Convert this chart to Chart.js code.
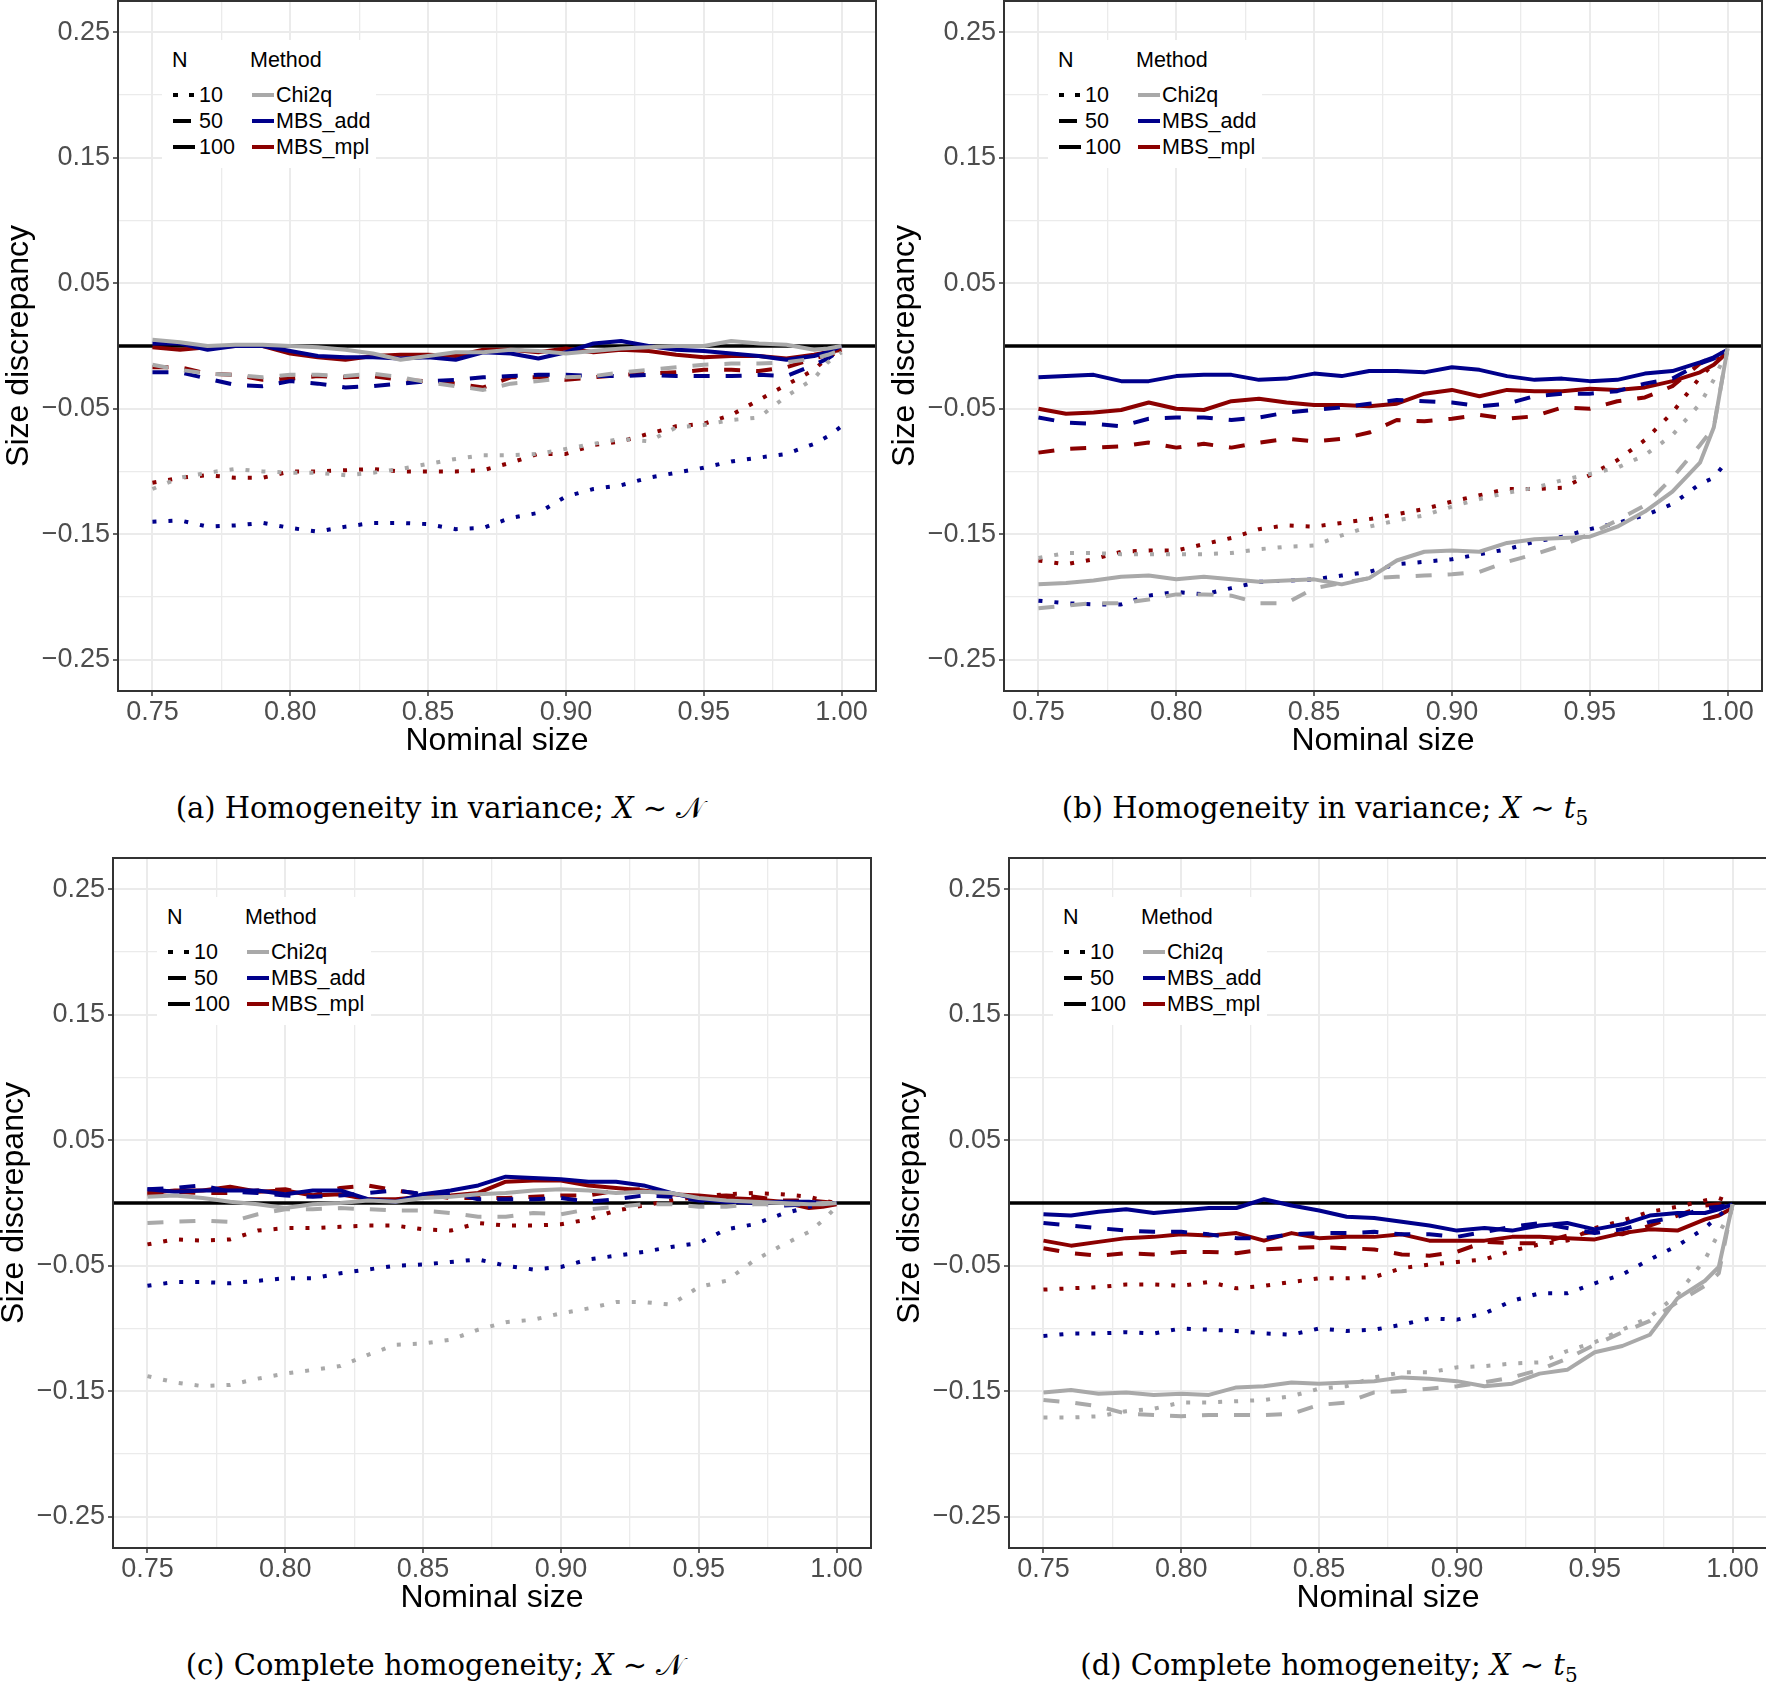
<!DOCTYPE html>
<html>
<head>
<meta charset="utf-8">
<script src="https://cdn.jsdelivr.net/npm/chart.js@4.4.1/dist/chart.umd.min.js"></script>
<style>
html, body { margin: 0; padding: 0; background: #fff; }
body { width: 1766px; height: 1685px; position: relative; overflow: hidden; font-family: "Liberation Sans", Arial, sans-serif; }
.panel { position: absolute; width: 882px; height: 760px; }
.legend { position: absolute; width: 214px; height: 128px; background: #fff; font-size: 21.5px; color: #000; }
.legend div { position: absolute; white-space: nowrap; line-height: 26px; }
.legend svg { position: absolute; left: 0; top: 0; }
.caption { position: absolute; width: 700px; text-align: center; font-family: "DejaVu Serif", serif; font-size: 29px; line-height: 29px; color: #000; white-space: nowrap; }
.caption sub { font-size: 20px; line-height: 0; }
</style>
</head>
<body>
<div class="panel" id="pa" style="left:0px;top:0px"><canvas id="chartA"></canvas></div>
<div class="panel" id="pb" style="left:886px;top:0px"><canvas id="chartB"></canvas></div>
<div class="panel" id="pc" style="left:-5px;top:857px"><canvas id="chartC"></canvas></div>
<div class="panel" id="pd" style="left:891px;top:857px"><canvas id="chartD"></canvas></div>

<div class="caption" style="left:90px;top:794px">(a) Homogeneity in variance; <i>X</i> ∼ 𝒩</div>
<div class="caption" style="left:975px;top:794px">(b) Homogeneity in variance; <i>X</i> ∼ <i>t</i><sub>5</sub></div>
<div class="caption" style="left:85px;top:1651px">(c) Complete homogeneity; <i>X</i> ∼ 𝒩</div>
<div class="caption" style="left:979px;top:1651px">(d) Complete homogeneity; <i>X</i> ∼ <i>t</i><sub>5</sub></div>

<script>
// nominal sizes (x) and axis breaks
const nominal = [0.75, 0.76, 0.77, 0.78, 0.79, 0.80, 0.81, 0.82, 0.83, 0.84, 0.85, 0.86, 0.87, 0.88, 0.89, 0.90, 0.91, 0.92, 0.93, 0.94, 0.95, 0.96, 0.97, 0.98, 0.99, 0.995, 1.00];
const xTicks = [0.75, 0.775, 0.80, 0.825, 0.85, 0.875, 0.90, 0.925, 0.95, 0.975, 1.00];
const yTicks = [-0.25, -0.20, -0.15, -0.10, -0.05, 0, 0.05, 0.10, 0.15, 0.20, 0.25];
const xLabels = ['0.75', '0.80', '0.85', '0.90', '0.95', '1.00'];
const yLabels = ['−0.25', '−0.15', '−0.05', '0.05', '0.15', '0.25'];

const nLevels = ['10', '50', '100'];
const methodNames = ['Chi2q', 'MBS_add', 'MBS_mpl'];

// (a) Homogeneity in variance, X ~ N
const aChi10  = [-0.114,-0.105,-0.101,-0.098,-0.100,-0.101,-0.101,-0.103,-0.101,-0.098,-0.094,-0.090,-0.087,-0.087,-0.086,-0.082,-0.078,-0.074,-0.076,-0.065,-0.063,-0.059,-0.057,-0.040,-0.026,-0.013,-0.005];
const aChi50  = [-0.015,-0.019,-0.022,-0.023,-0.025,-0.023,-0.023,-0.024,-0.022,-0.025,-0.029,-0.032,-0.035,-0.030,-0.028,-0.025,-0.024,-0.021,-0.019,-0.017,-0.015,-0.014,-0.014,-0.013,-0.010,-0.007,-0.003];
const aChi100 = [0.005,0.003,0.000,0.001,0.001,0.000,-0.001,-0.003,-0.006,-0.011,-0.008,-0.005,-0.005,-0.003,-0.004,-0.006,-0.004,-0.002,-0.001,0.000,0.000,0.004,0.002,0.001,-0.003,-0.002,0.000];
const aAdd10  = [-0.140,-0.139,-0.144,-0.143,-0.141,-0.145,-0.148,-0.144,-0.141,-0.141,-0.142,-0.146,-0.145,-0.137,-0.133,-0.120,-0.114,-0.111,-0.105,-0.101,-0.097,-0.092,-0.089,-0.086,-0.078,-0.072,-0.064];
const aAdd50  = [-0.021,-0.021,-0.026,-0.031,-0.032,-0.028,-0.030,-0.033,-0.032,-0.030,-0.028,-0.027,-0.025,-0.024,-0.023,-0.023,-0.024,-0.024,-0.023,-0.024,-0.024,-0.024,-0.023,-0.024,-0.015,-0.010,-0.003];
const aAdd100 = [0.002,0.002,-0.003,0.000,0.000,-0.004,-0.008,-0.009,-0.009,-0.010,-0.009,-0.011,-0.005,-0.006,-0.010,-0.005,0.002,0.004,0.000,-0.003,-0.004,-0.006,-0.008,-0.011,-0.008,-0.005,0.000];
const aMpl10  = [-0.109,-0.105,-0.103,-0.105,-0.105,-0.100,-0.100,-0.099,-0.098,-0.100,-0.100,-0.100,-0.099,-0.093,-0.086,-0.086,-0.079,-0.076,-0.070,-0.064,-0.062,-0.055,-0.043,-0.031,-0.019,-0.009,-0.003];
const aMpl50  = [-0.017,-0.017,-0.022,-0.023,-0.027,-0.026,-0.024,-0.025,-0.024,-0.027,-0.028,-0.030,-0.033,-0.025,-0.025,-0.027,-0.025,-0.023,-0.022,-0.021,-0.019,-0.019,-0.020,-0.017,-0.010,-0.007,-0.004];
const aMpl100 = [-0.001,-0.003,-0.001,0.000,0.000,-0.006,-0.009,-0.011,-0.008,-0.007,-0.007,-0.008,-0.003,-0.003,-0.005,-0.002,-0.005,-0.003,-0.004,-0.007,-0.009,-0.008,-0.008,-0.010,-0.007,-0.005,-0.003];

// (b) Homogeneity in variance, X ~ t5
const bChi10  = [-0.169,-0.165,-0.165,-0.166,-0.166,-0.166,-0.166,-0.165,-0.162,-0.160,-0.159,-0.151,-0.144,-0.139,-0.135,-0.128,-0.122,-0.117,-0.113,-0.107,-0.102,-0.097,-0.087,-0.071,-0.046,-0.027,-0.003];
const bChi50  = [-0.209,-0.207,-0.205,-0.205,-0.202,-0.198,-0.198,-0.199,-0.205,-0.205,-0.193,-0.189,-0.185,-0.184,-0.183,-0.182,-0.180,-0.172,-0.166,-0.159,-0.150,-0.139,-0.127,-0.105,-0.079,-0.065,-0.002];
const bChi100 = [-0.190,-0.189,-0.187,-0.184,-0.183,-0.186,-0.184,-0.186,-0.188,-0.187,-0.186,-0.190,-0.185,-0.171,-0.164,-0.163,-0.164,-0.157,-0.154,-0.153,-0.152,-0.144,-0.132,-0.116,-0.093,-0.065,-0.002];
const bAdd10  = [-0.203,-0.205,-0.206,-0.206,-0.199,-0.196,-0.198,-0.193,-0.188,-0.187,-0.186,-0.183,-0.180,-0.174,-0.172,-0.170,-0.166,-0.162,-0.156,-0.152,-0.146,-0.141,-0.135,-0.126,-0.110,-0.105,-0.091];
const bAdd50  = [-0.057,-0.061,-0.062,-0.064,-0.058,-0.057,-0.057,-0.059,-0.057,-0.053,-0.051,-0.049,-0.046,-0.043,-0.044,-0.045,-0.048,-0.046,-0.040,-0.038,-0.038,-0.036,-0.030,-0.026,-0.014,-0.010,-0.004];
const bAdd100 = [-0.025,-0.024,-0.023,-0.028,-0.028,-0.024,-0.023,-0.023,-0.027,-0.026,-0.022,-0.024,-0.020,-0.020,-0.021,-0.017,-0.019,-0.024,-0.027,-0.026,-0.028,-0.027,-0.022,-0.020,-0.013,-0.009,-0.003];
const bMpl10  = [-0.171,-0.174,-0.170,-0.164,-0.163,-0.163,-0.158,-0.153,-0.146,-0.143,-0.144,-0.141,-0.138,-0.134,-0.130,-0.124,-0.119,-0.114,-0.114,-0.113,-0.103,-0.091,-0.075,-0.053,-0.025,-0.014,-0.003];
const bMpl50  = [-0.085,-0.082,-0.081,-0.080,-0.077,-0.081,-0.078,-0.081,-0.077,-0.074,-0.076,-0.074,-0.069,-0.059,-0.060,-0.058,-0.055,-0.058,-0.056,-0.049,-0.050,-0.044,-0.041,-0.032,-0.014,-0.008,-0.004];
const bMpl100 = [-0.050,-0.054,-0.053,-0.051,-0.045,-0.050,-0.051,-0.044,-0.042,-0.045,-0.047,-0.047,-0.048,-0.046,-0.038,-0.035,-0.040,-0.035,-0.036,-0.036,-0.034,-0.035,-0.033,-0.028,-0.021,-0.015,-0.005];

// (c) Complete homogeneity, X ~ N
const cChi10  = [-0.138,-0.143,-0.146,-0.145,-0.140,-0.136,-0.133,-0.130,-0.121,-0.113,-0.112,-0.109,-0.101,-0.095,-0.093,-0.088,-0.084,-0.079,-0.079,-0.081,-0.067,-0.062,-0.046,-0.034,-0.023,-0.014,-0.003];
const cChi50  = [-0.016,-0.015,-0.014,-0.015,-0.009,-0.005,-0.005,-0.004,-0.005,-0.006,-0.006,-0.008,-0.011,-0.011,-0.008,-0.009,-0.005,-0.003,-0.001,-0.001,-0.003,-0.003,-0.001,-0.001,-0.001,0.000,0.000];
const cChi100 = [0.005,0.006,0.004,0.001,-0.001,-0.004,-0.001,0.000,0.002,0.001,0.004,0.005,0.007,0.008,0.010,0.011,0.010,0.008,0.009,0.008,0.004,0.002,0.001,0.000,-0.001,-0.001,0.000];
const cAdd10  = [-0.066,-0.063,-0.063,-0.064,-0.062,-0.060,-0.060,-0.056,-0.053,-0.050,-0.049,-0.047,-0.045,-0.050,-0.053,-0.051,-0.045,-0.042,-0.039,-0.035,-0.032,-0.021,-0.017,-0.009,-0.003,-0.001,0.000];
const cAdd50  = [0.011,0.012,0.014,0.009,0.008,0.006,0.005,0.006,0.008,0.010,0.007,0.008,0.003,0.003,0.003,0.004,0.001,0.003,0.006,0.005,0.002,0.001,0.000,-0.002,-0.001,0.000,0.000];
const cAdd100 = [0.011,0.009,0.010,0.010,0.010,0.007,0.010,0.010,0.003,0.001,0.007,0.010,0.014,0.021,0.020,0.019,0.017,0.017,0.014,0.008,0.003,0.001,0.000,0.001,0.001,0.000,0.000];
const cMpl10  = [-0.033,-0.029,-0.030,-0.029,-0.022,-0.020,-0.020,-0.019,-0.018,-0.018,-0.021,-0.022,-0.016,-0.018,-0.018,-0.017,-0.013,-0.006,-0.002,0.002,0.005,0.007,0.008,0.007,0.005,0.002,0.000];
const cMpl50  = [0.007,0.009,0.008,0.008,0.010,0.011,0.006,0.012,0.014,0.010,0.007,0.004,0.004,0.004,0.005,0.006,0.006,0.010,0.011,0.007,0.005,0.006,0.005,0.002,0.002,0.001,0.000];
const cMpl100 = [0.008,0.010,0.010,0.013,0.009,0.010,0.006,0.007,0.003,0.003,0.005,0.006,0.008,0.017,0.018,0.018,0.014,0.012,0.010,0.007,0.006,0.004,0.003,0.001,-0.004,-0.003,-0.001];

// (d) Complete homogeneity, X ~ t5
const dChi10  = [-0.171,-0.171,-0.170,-0.166,-0.164,-0.159,-0.159,-0.158,-0.157,-0.154,-0.148,-0.146,-0.139,-0.135,-0.135,-0.131,-0.130,-0.128,-0.127,-0.118,-0.111,-0.101,-0.091,-0.073,-0.045,-0.024,-0.005];
const dChi50  = [-0.157,-0.159,-0.162,-0.168,-0.169,-0.170,-0.169,-0.169,-0.169,-0.168,-0.161,-0.159,-0.151,-0.150,-0.148,-0.146,-0.143,-0.139,-0.133,-0.124,-0.113,-0.103,-0.094,-0.079,-0.066,-0.056,-0.001];
const dChi100 = [-0.151,-0.149,-0.152,-0.151,-0.153,-0.152,-0.153,-0.147,-0.146,-0.143,-0.144,-0.143,-0.142,-0.139,-0.140,-0.142,-0.146,-0.144,-0.136,-0.133,-0.119,-0.114,-0.105,-0.076,-0.062,-0.051,-0.001];
const dAdd10  = [-0.106,-0.104,-0.104,-0.103,-0.104,-0.100,-0.101,-0.102,-0.104,-0.105,-0.100,-0.102,-0.101,-0.097,-0.092,-0.093,-0.088,-0.078,-0.072,-0.072,-0.064,-0.057,-0.045,-0.034,-0.020,-0.010,-0.002];
const dAdd50  = [-0.016,-0.018,-0.020,-0.022,-0.023,-0.023,-0.025,-0.028,-0.028,-0.025,-0.024,-0.024,-0.023,-0.025,-0.025,-0.027,-0.023,-0.019,-0.016,-0.020,-0.024,-0.021,-0.015,-0.011,-0.004,-0.003,-0.001];
const dAdd100 = [-0.009,-0.010,-0.007,-0.005,-0.008,-0.006,-0.004,-0.004,0.003,-0.002,-0.006,-0.011,-0.012,-0.015,-0.018,-0.022,-0.020,-0.022,-0.018,-0.016,-0.021,-0.017,-0.010,-0.008,-0.008,-0.005,-0.001];
const dMpl10  = [-0.069,-0.068,-0.067,-0.065,-0.065,-0.066,-0.063,-0.068,-0.066,-0.063,-0.060,-0.060,-0.059,-0.052,-0.049,-0.047,-0.045,-0.038,-0.033,-0.030,-0.020,-0.014,-0.007,-0.003,0.002,0.004,0.000];
const dMpl50  = [-0.036,-0.040,-0.042,-0.040,-0.041,-0.039,-0.039,-0.040,-0.037,-0.036,-0.035,-0.036,-0.037,-0.041,-0.042,-0.039,-0.031,-0.032,-0.032,-0.026,-0.023,-0.025,-0.018,-0.010,-0.002,-0.001,-0.002];
const dMpl100 = [-0.030,-0.034,-0.031,-0.028,-0.027,-0.025,-0.026,-0.024,-0.030,-0.024,-0.028,-0.027,-0.027,-0.025,-0.030,-0.030,-0.030,-0.027,-0.027,-0.028,-0.029,-0.024,-0.021,-0.022,-0.013,-0.010,-0.004];

const methodColors = ['#a9a9a9', '#00008b', '#8b0000'];
const nDash = [[4, 12], [16, 16], []];

Chart.defaults.font.family = '"Liberation Sans", Arial, sans-serif';
Chart.defaults.animation = false;

const isMajorX = v => Math.abs(v * 20 - Math.round(v * 20)) < 1e-6;
const isMajorY = v => Math.abs(v * 10 - 0.5 - Math.round(v * 10 - 0.5)) < 1e-6;
const fmtY = v => v.toFixed(2).replace('-', '\u2212');

// frame round the panel plus the black reference line at zero
const frame = {
    id: 'frame',
    beforeDatasetsDraw(chart) {
        const {ctx, chartArea, scales} = chart;
        const y0 = scales.y.getPixelForValue(0);
        ctx.save();
        ctx.strokeStyle = '#000';
        ctx.lineWidth = 3.5;
        ctx.beginPath();
        ctx.moveTo(chartArea.left, y0);
        ctx.lineTo(chartArea.right, y0);
        ctx.stroke();
        ctx.restore();
    },
    afterDraw(chart) {
        const {ctx, chartArea} = chart;
        ctx.save();
        ctx.strokeStyle = '#333';
        ctx.lineWidth = 2;
        ctx.strokeRect(chartArea.left, chartArea.top, chartArea.right - chartArea.left, chartArea.bottom - chartArea.top);
        ctx.restore();
    }
};

function makeChart(canvasId, series) {
    const datasets = [];
    series.forEach((group, m) => {
        group.forEach((vals, k) => {
            datasets.push({
                label: methodNames[m] + ' N=' + nLevels[k],
                data: nominal.map((x, i) => ({x: x, y: vals[i]})),
                borderColor: methodColors[m],
                borderDash: nDash[k],
                borderWidth: 4,
                borderCapStyle: 'butt',
                borderJoinStyle: 'round',
                pointRadius: 0,
                tension: 0,
                fill: false
            });
        });
    });
    new Chart(document.getElementById(canvasId), {
        type: 'line',
        data: {datasets: datasets},
        options: {
            responsive: true,
            maintainAspectRatio: false,
            layout: {padding: {left: 0, right: 6, top: 1, bottom: 0}},
            plugins: {legend: {display: false}, tooltip: {enabled: false}},
            scales: {
                x: {
                    type: 'linear',
                    min: 0.7375,
                    max: 1.0125,
                    afterBuildTicks: s => { s.ticks = xTicks.map(v => ({value: v})); },
                    afterFit: s => { s.height = 69; },
                    ticks: {
                        autoSkip: false, maxRotation: 0, padding: 0, color: '#4d4d4d',
                        font: {size: 27},
                        callback: v => (xLabels.includes(v.toFixed(2)) && isMajorX(v)) ? v.toFixed(2) : ''
                    },
                    grid: {
                        color: '#ebebeb',
                        lineWidth: c => isMajorX(c.tick.value) ? 2 : 1.3,
                        tickColor: c => isMajorX(c.tick.value) ? '#333' : 'rgba(0,0,0,0)',
                        tickLength: 5,
                        tickWidth: 1.5
                    },
                    border: {display: false},
                    title: {display: true, text: 'Nominal size', color: '#000', font: {size: 32}, padding: 0}
                },
                y: {
                    min: -0.275,
                    max: 0.275,
                    afterBuildTicks: s => { s.ticks = yTicks.map(v => ({value: v})); },
                    afterFit: s => { s.width = 118; s.paddingTop = 0; s.paddingBottom = 0; },
                    ticks: {
                        padding: 3, color: '#4d4d4d',
                        font: {size: 27},
                        callback: v => yLabels.includes(fmtY(v)) ? fmtY(v) : ''
                    },
                    grid: {
                        color: '#ebebeb',
                        lineWidth: c => isMajorY(c.tick.value) ? 2 : 1.3,
                        tickColor: c => isMajorY(c.tick.value) ? '#333' : 'rgba(0,0,0,0)',
                        tickLength: 5,
                        tickWidth: 1.5
                    },
                    border: {display: false},
                    title: {display: true, text: 'Size discrepancy', color: '#000', font: {size: 32}, padding: 0}
                }
            }
        },
        plugins: [frame]
    });
}

function addLegend(left, top) {
    const lg = document.createElement('div');
    lg.className = 'legend';
    lg.style.left = left + 'px';
    lg.style.top = top + 'px';
    const keyEnd = [32, 29, 33];
    const keyDash = ['5 11', 'none', 'none'];
    let html = '<div style="left:10px;top:7px">N</div><div style="left:88px;top:7px">Method</div>';
    let svg = '<svg width="214" height="128">';
    nLevels.forEach((n, i) => {
        const cy = 55 + 26 * i;
        html += '<div style="left:37px;top:' + (cy - 13) + 'px">' + n + '</div>';
        svg += '<line x1="11" x2="' + keyEnd[i] + '" y1="' + cy + '" y2="' + cy + '" stroke="#000" stroke-width="4" stroke-dasharray="' + keyDash[i] + '"/>';
    });
    methodNames.forEach((name, i) => {
        const cy = 55 + 26 * i;
        html += '<div style="left:114px;top:' + (cy - 13) + 'px">' + name + '</div>';
        svg += '<line x1="90" x2="112" y1="' + cy + '" y2="' + cy + '" stroke="' + methodColors[i] + '" stroke-width="4"/>';
    });
    svg += '</svg>';
    lg.innerHTML = svg + html;
    document.body.appendChild(lg);
}

makeChart('chartA', [[aChi10, aChi50, aChi100], [aAdd10, aAdd50, aAdd100], [aMpl10, aMpl50, aMpl100]]);
makeChart('chartB', [[bChi10, bChi50, bChi100], [bAdd10, bAdd50, bAdd100], [bMpl10, bMpl50, bMpl100]]);
makeChart('chartC', [[cChi10, cChi50, cChi100], [cAdd10, cAdd50, cAdd100], [cMpl10, cMpl50, cMpl100]]);
makeChart('chartD', [[dChi10, dChi50, dChi100], [dAdd10, dAdd50, dAdd100], [dMpl10, dMpl50, dMpl100]]);

addLegend(162, 40);
addLegend(1048, 40);
addLegend(157, 897);
addLegend(1053, 897);
</script>
</body>
</html>
